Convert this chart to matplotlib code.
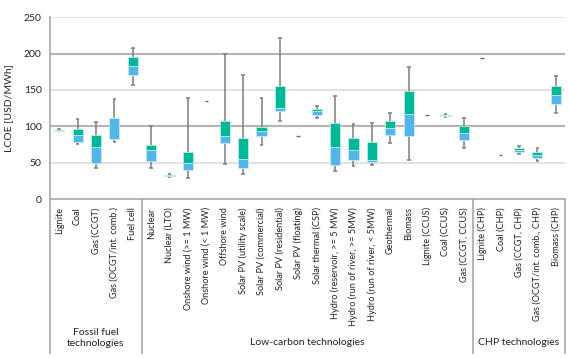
import matplotlib.pyplot as plt

plt.rcParams['font.family'] = ['Lato', 'DejaVu Sans']

categories = [
    "Lignite", "Coal", "Gas (CCGT)", "Gas (OCGT/int. comb.)", "Fuel cell",
    "Nuclear", "Nuclear (LTO)", "Onshore wind (>= 1 MW)", "Onshore wind (< 1 MW)",
    "Offshore wind", "Solar PV (utility scale)", "Solar PV (commercial)",
    "Solar PV (residential)", "Solar PV (floating)", "Solar thermal (CSP)",
    "Hydro (reservoir, >= 5 MW)", "Hydro (run of river, >= 5MW)",
    "Hydro (run of river, < 5MW)", "Geothermal", "Biomass", "Lignite (CCUS)",
    "Coal (CCUS)", "Gas (CCGT, CCUS)",
    "Lignite (CHP)", "Coal (CHP)", "Gas (CCGT, CHP)", "Gas (OCGT/int. comb., CHP)",
    "Biomass (CHP)",
]

# LCOE in USD/MWh: whisker low, lower quartile, median, upper quartile, whisker high
# (single estimates have all five equal)
lows    = [93, 75, 42, 79, 157, 42, 30, 29, 135, 48, 34, 74, 108, 86, 112, 38.5, 46, 47, 77, 54, 115, 113, 70, 194, 60, 62, 52, 118]
q1s     = [94, 78, 50, 82, 170, 52, 32, 39.5, 135, 77.5, 43, 87, 121, 86, 116, 47, 54, 50.5, 88, 86, 115, 114, 81, 194, 60, 64.5, 57, 131]
medians = [94.5, 88, 71, 112, 183, 68, 32.5, 49.5, 135, 87, 55, 93.5, 125, 86, 121.5, 71, 67.5, 53, 98, 117, 115, 115, 91, 194, 60, 68, 60.5, 143]
q3s     = [95.5, 97, 88, 112, 195, 74, 33.5, 64, 135, 108, 83.5, 99, 156, 86, 124, 105, 84, 79, 108, 149, 115, 116, 100, 194, 60, 70, 64.5, 155]
highs   = [96, 110, 106, 137, 208, 101, 34, 139, 135, 199, 171, 139, 222, 86, 128, 142, 103, 105, 119, 181, 115, 117, 112, 194, 60, 72.5, 70, 169]

groups = ["Fossil fuel\ntechnologies", "Low-carbon technologies", "CHP technologies"]
group_sizes = [5, 18, 5]

blue = "#52b6e8"
green = "#00b898"
whisker = "#7d7d7d"

fig = plt.figure(figsize=(5.69, 3.58), dpi=100)
ax = fig.add_axes([50 / 569, 1 - 199 / 358, 515 / 569, 181.7 / 358])
ax.set_xlim(-0.5, 27.5)
ax.set_ylim(0, 250)

for y in [50, 150, 250]:
    ax.axhline(y, color="#e2e2e2", lw=1.5, zorder=0)
for y in [100, 200]:
    ax.axhline(y, color="#b4b4b4", lw=1.5, zorder=0)

for i in range(len(categories)):
    lo, q1, med, q3, hi = lows[i], q1s[i], medians[i], q3s[i], highs[i]
    if lo == hi:
        ax.hlines(lo, i - 0.1, i + 0.1, color="#6a6a6a", lw=1.0, zorder=3)
        continue
    ax.vlines(i, lo, hi, color=whisker, lw=1.1, zorder=2)
    ax.hlines([lo, hi], i - 0.1, i + 0.1, color=whisker, lw=1.1, zorder=2)
    ax.bar(i, med - q1, bottom=q1, width=0.55, color=blue, edgecolor="#c4ebf7", lw=0.6, zorder=3)
    ax.bar(i, q3 - med, bottom=med, width=0.55, color=green, edgecolor="#b6ece0", lw=0.6, zorder=3)

for s in ["top", "right", "left"]:
    ax.spines[s].set_visible(False)
ax.spines["bottom"].set_color("#a8a8a8")
ax.spines["bottom"].set_linewidth(1.2)

# frame lines reaching down into the label area
bottom_frac = -0.85
ax.plot([-0.5, -0.5], [1.0, bottom_frac], color="#a8a8a8", lw=1.2,
        transform=ax.get_xaxis_transform(), clip_on=False)
edge = -0.5
for n in group_sizes:
    edge += n
    ax.plot([edge, edge], [0, bottom_frac], color="#a8a8a8", lw=1.2,
            transform=ax.get_xaxis_transform(), clip_on=False)

ax.set_xticks(range(len(categories)))
ax.set_xticklabels(categories, rotation=90, fontsize=6.6, color="#222222")
ax.tick_params(axis="x", length=0, pad=6)
ax.set_yticks([0, 50, 100, 150, 200, 250])
ax.tick_params(axis="y", length=0, pad=6, labelsize=7.5, labelcolor="#222222")
ax.set_ylabel("LCOE [USD/MWh]", fontsize=7.5, color="#222222", labelpad=8)

start = -0.5
for name, n in zip(groups, group_sizes):
    xc = start + n / 2
    ypos = -0.765 if "\n" in name else -0.79
    ax.text(xc, ypos, name, transform=ax.get_xaxis_transform(), ha="center", va="center",
            fontsize=7.5, color="#222222", linespacing=1.15)
    start += n

fig.savefig("out.png", dpi=100)
